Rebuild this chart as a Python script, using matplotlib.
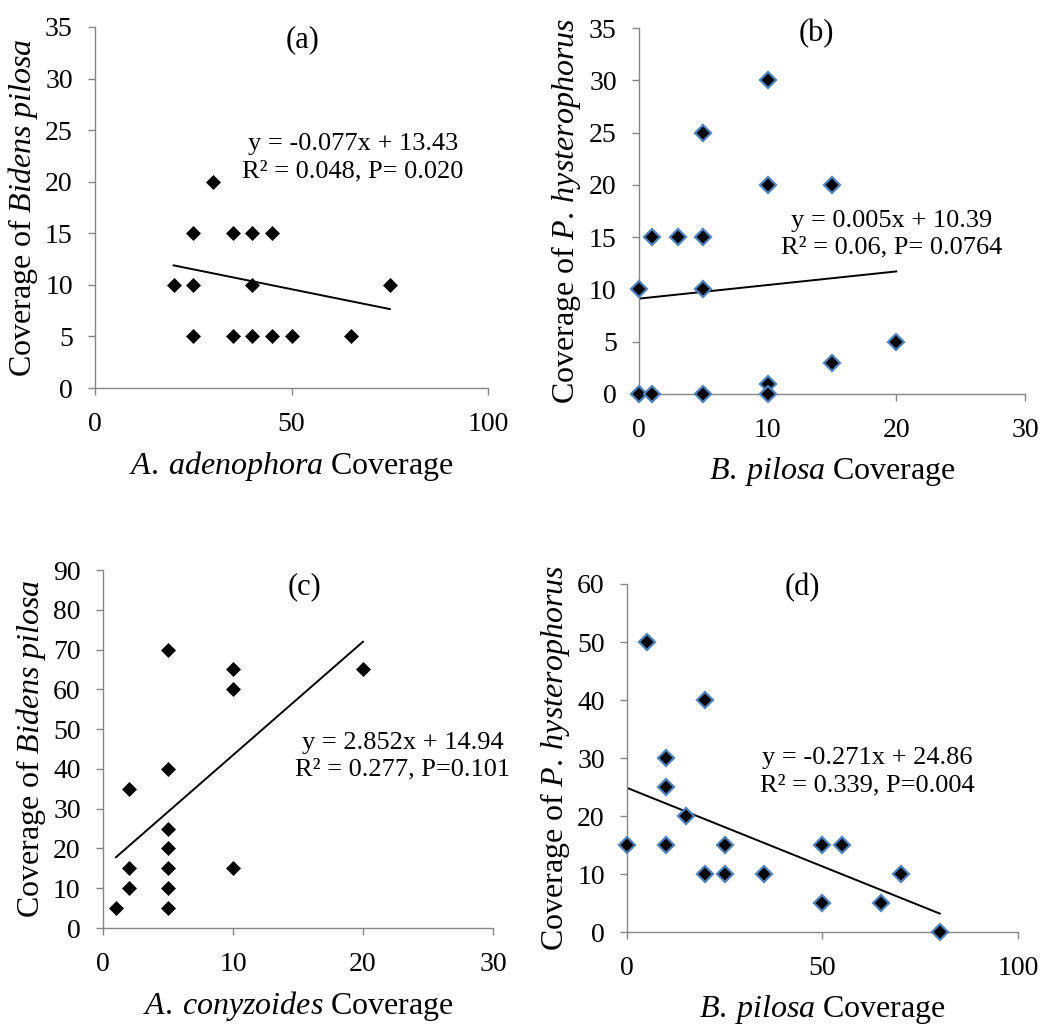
import matplotlib
matplotlib.use("Agg")
import matplotlib.pyplot as plt
import numpy as np

plt.rcParams['font.family'] = ['Liberation Serif', 'DejaVu Serif']
plt.rcParams['mathtext.fontset'] = 'custom'
plt.rcParams['mathtext.rm'] = 'Liberation Serif'
plt.rcParams['mathtext.it'] = 'Liberation Serif:italic'

# ---- data ----
a_x = [20, 25, 25, 25, 30, 35, 35, 40, 40, 40, 45, 45, 50, 65, 75]
a_y = [10, 15, 10, 5, 20, 15, 5, 15, 10, 5, 15, 5, 5, 5, 10]
a_line = [-0.077, 13.43]          # slope, intercept
a_eq = ["y = -0.077x + 13.43", "R² = 0.048, P= 0.020"]

b_x = [0, 0, 1, 1, 3, 5, 5, 5, 5, 10, 10, 10, 10, 15, 15, 20]
b_y = [10, 0, 15, 0, 15, 25, 15, 10, 0, 30, 20, 1, 0, 20, 3, 5]
b_line = [0.13, 9.12]             # as drawn in the picture
b_eq = ["y = 0.005x + 10.39", "R² = 0.06, P= 0.0764"]

c_x = [1, 2, 2, 2, 5, 5, 5, 5, 5, 5, 5, 10, 10, 10, 20]
c_y = [5, 35, 15, 10, 70, 40, 25, 20, 15, 10, 5, 65, 60, 15, 65]
c_line = [2.852, 14.94]
c_eq = ["y = 2.852x + 14.94", "R² = 0.277, P=0.101"]

d_x = [0, 5, 10, 10, 10, 15, 20, 20, 25, 25, 35, 50, 50, 55, 65, 70, 80]
d_y = [15, 50, 30, 25, 15, 20, 40, 10, 15, 10, 10, 15, 5, 15, 5, 10, 0]
d_line = [-0.271, 24.86]
d_eq = ["y = -0.271x + 24.86", "R² = 0.339, P=0.004"]

panel_tags = ["(a)", "(b)", "(c)", "(d)"]
x_labels = [r"$\mathit{A.}\:\mathit{adenophora}\ \mathrm{Coverage}$",
            r"$\mathit{B}\mathrm{.}\:\mathit{pilosa}\ \mathrm{Coverage}$",
            r"$\mathit{A.}\:\mathit{conyzoides}\ \mathrm{Coverage}$",
            r"$\mathit{B}\mathrm{.}\:\mathit{pilosa}\ \mathrm{Coverage}$"]
y_labels = [r"$\mathrm{Coverage\ of}\ \mathit{Bidens\ pilosa}$",
            r"$\mathrm{Coverage\ of}\ \mathit{P}\mathrm{.}\:\mathit{hysterophorus}$",
            r"$\mathrm{Coverage\ of}\ \mathit{Bidens\ pilosa}$",
            r"$\mathrm{Coverage\ of}\ \mathit{P}\mathrm{.}\:\mathit{hysterophorus}$"]
x_ticks = [[0, 50, 100], [0, 10, 20, 30], [0, 10, 20, 30], [0, 50, 100]]
y_ticks = [list(range(0, 36, 5)), list(range(0, 36, 5)),
           list(range(0, 91, 10)), list(range(0, 61, 10))]

# ---- layout ----
fig = plt.figure(figsize=(10.42, 10.26), dpi=100)
rects = [[0.0912, 0.6218, 0.3772, 0.3519],
         [0.6132, 0.6160, 0.3704, 0.3567],
         [0.0988, 0.0955, 0.3743, 0.3489],
         [0.6017, 0.0916, 0.3752, 0.3392]]
tag_pos = [(0.527, 0.964), (0.459, 0.986), (0.518, 0.953), (0.448, 0.989)]
eq_pos = [(0.656, 0.637), (0.655, 0.437), (0.769, 0.48), (0.615, 0.46)]

gray = '#868686'
blue = '#4F81BD'
data = [(a_x, a_y, a_line, a_eq, 'black'),
        (b_x, b_y, b_line, b_eq, blue),
        (c_x, c_y, c_line, c_eq, 'black'),
        (d_x, d_y, d_line, d_eq, blue)]

for i, (xs, ys, line, eq, ec) in enumerate(data):
    ax = fig.add_axes(rects[i])
    xt, yt = x_ticks[i], y_ticks[i]
    lx = np.array([min(xs), max(xs)])
    ax.plot(lx, line[0] * lx + line[1], color='black', lw=1.4, zorder=2)
    if ec == 'black':
        ax.plot(xs, ys, 'D', ms=7.5, mfc='black', mec='black', mew=0.5,
                ls='none', zorder=3, clip_on=False)
    else:
        ax.plot(xs, ys, 'D', ms=8.4, mfc='black', mec=ec, mew=1.6,
                ls='none', zorder=3, clip_on=False)
    ax.set_xlim(xt[0], xt[-1])
    ax.set_ylim(yt[0], yt[-1])
    ax.set_xticks(xt)
    ax.set_yticks(yt)
    for s in ['top', 'right']:
        ax.spines[s].set_visible(False)
    for s in ['left', 'bottom']:
        ax.spines[s].set_color(gray)
        ax.spines[s].set_linewidth(1.0)
    ax.tick_params(axis='both', colors=gray, length=5, width=1.0,
                   direction='out', labelsize=20, labelcolor='black')
    ax.tick_params(axis='x', pad=12)
    ax.tick_params(axis='y', pad=11)
    ax.set_xlabel(x_labels[i], fontsize=23, labelpad=9)
    ax.set_ylabel(y_labels[i], fontsize=23, labelpad=4)
    ax.text(tag_pos[i][0], tag_pos[i][1], panel_tags[i], transform=ax.transAxes,
            ha='center', va='center', fontsize=22)
    ax.text(eq_pos[i][0], eq_pos[i][1], "\n".join(eq), transform=ax.transAxes,
            ha='center', va='center', fontsize=19, linespacing=1.3)

fig.savefig("out.png", dpi=100)
